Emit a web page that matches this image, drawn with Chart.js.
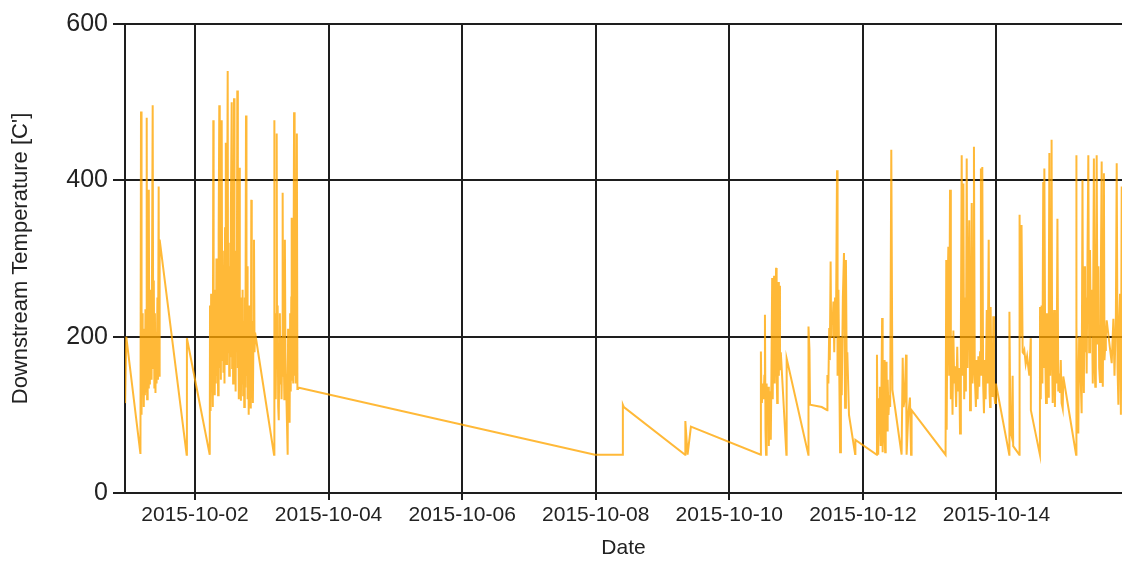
<!DOCTYPE html>
<html>
<head>
<meta charset="utf-8">
<script src="https://cdn.jsdelivr.net/npm/chart.js@4.4.1/dist/chart.umd.min.js"></script>
<style>
  body { margin: 0; background: #fff; }
  canvas { display: block; }
</style>
</head>
<body>
<canvas id="tempChart" width="1122" height="563"></canvas>
<script>
// readings: hours after 2015-10-01 00:00 (UTC) and downstream temperature
const startDate = '2015-10-01T00:00:00Z';
const hours = [
  -1.1, -0.7, 4.4,
  4.6, 4.8, 5.0, 5.2, 5.4, 5.6, 5.8, 6.0, 6.2, 6.4, 6.65, 6.8, 7.0, 7.2, 7.4, 7.6, 7.8, 8.0, 8.2, 8.4,
  8.8, 9.0, 9.2, 9.4, 9.6, 9.8, 10.0, 10.2, 10.5, 10.7, 10.95, 11.1, 11.3,
  21.0, 21.1, 29.3,
  29.4, 29.6, 29.8, 30.0, 30.2, 30.4, 30.58, 30.7, 30.9, 31.1,
  31.3, 31.5, 31.7, 31.9, 32.1, 32.3, 32.5, 32.73, 32.9, 33.1,
  33.3, 33.6, 33.8, 34.0, 34.2, 34.4, 34.6, 34.8, 35.0, 35.14,
  35.3, 35.5, 35.75, 35.9, 36.1, 36.3, 36.5, 36.7, 36.9, 37.19,
  37.35, 37.5, 37.7, 37.85, 38.02, 38.2, 38.4, 38.6, 38.8, 39.0,
  39.2, 39.4, 39.6, 39.75, 39.92, 40.1, 40.3, 40.5, 40.7, 40.9,
  41.1, 41.3, 41.5, 41.7, 41.9, 42.1, 42.33, 42.5, 42.7, 42.9,
  43.1, 43.3, 43.5, 43.7, 43.9, 44.05, 44.23, 44.4, 44.6, 44.8,
  45.0, 45.2, 45.4, 45.6,
  52.4,
  52.45, 52.6, 52.8, 53.0, 53.2, 53.36, 53.5, 53.7, 53.9, 54.1,
  54.3, 54.5, 54.7, 54.9, 55.1, 55.3, 55.5, 55.7, 55.9, 56.1,
  56.3, 56.5, 56.8, 57.3, 57.45, 57.6, 57.8, 58.0, 58.2, 58.4,
  58.6, 58.75, 58.9, 59.1, 59.3, 59.6, 59.8, 60.0, 60.2, 60.6,
  60.8, 61.0,
  167.7, 177.7, 177.75, 178.1, 200.1, 200.2, 201.0, 202.2, 227.3,
  227.35, 227.5, 227.7, 228.0, 228.3, 228.6, 228.8, 229.0, 229.2, 229.4,
  229.6, 229.8, 230.0, 230.2, 230.5, 230.9, 231.1, 231.4, 231.6, 231.8,
  232.1, 232.3, 232.5, 232.8, 233.0, 233.2, 233.4, 233.6, 233.8, 234.0,
  234.2, 234.5, 236.5, 236.6, 244.4, 244.45, 244.8, 245.0, 249.2, 251.2,
  251.25, 251.6, 251.9, 252.1, 252.4, 252.6, 252.8, 253.1, 253.4, 253.7,
  254.0, 254.3, 254.7, 254.9, 255.2, 255.8, 256.1, 256.4, 256.8, 257.2,
  257.6, 257.9, 258.2, 258.4, 259.0, 261.2, 261.3,
  269.0, 269.05, 269.3, 269.5, 269.8, 270.1, 270.4, 270.6, 270.9, 271.1,
  271.3, 271.6, 271.8, 272.0, 272.2, 272.5, 272.7, 272.9, 273.2, 273.5,
  273.8, 274.2, 274.6, 275.5, 277.9, 278.3, 278.6, 279.0, 279.5, 279.7,
  280.3, 280.9, 281.3, 281.5, 293.7,
  293.95, 294.1, 294.4, 294.7, 295.0, 295.3, 295.6, 295.9, 296.2, 296.5,
  296.8, 297.1, 297.5, 297.9, 298.2, 298.6, 298.9, 299.2, 299.5, 299.8,
  300.1, 300.4, 300.7, 301.0, 301.3, 301.6, 301.9, 302.2, 302.5, 302.8,
  303.1, 303.4, 303.65, 303.9, 304.2, 304.6, 304.9, 305.2, 305.5, 305.8,
  306.1, 306.4, 306.6, 306.9, 307.2, 307.5, 307.8, 308.1, 308.5, 308.8,
  309.2, 309.5, 309.7, 309.9, 310.2, 310.6, 310.85, 311.1, 311.5, 311.8,
  316.6,
  316.65, 317.0, 317.5, 317.8, 318.0, 320.2, 320.3, 320.6, 321.0, 321.4,
  321.6, 322.0, 322.5, 323.0, 323.4, 323.8, 324.3, 324.35, 327.6,
  327.65, 327.9, 328.2, 328.5, 328.8, 329.0, 329.2, 329.5, 329.8, 330.1,
  330.4, 330.6, 330.8, 331.0, 331.3, 331.6, 331.8, 332.0, 332.2, 332.5,
  332.7, 333.0, 333.3, 333.6, 333.9, 334.2, 334.6, 334.8, 335.1, 335.4,
  335.8, 336.0, 340.6,
  340.65, 340.8, 341.1, 341.4, 341.7, 342.0, 342.3, 342.6, 342.9, 343.1,
  343.4, 343.6, 343.8, 344.1, 344.4, 344.7, 345.0, 345.3, 345.6, 345.9,
  346.2, 346.6, 347.0, 347.2, 347.5, 347.7, 348.0, 348.3, 348.6, 348.9,
  349.2, 349.5, 349.8, 350.0, 350.2, 350.4, 350.6, 350.8, 351.0, 351.3,
  351.6, 353.4, 354.0, 354.4, 354.9, 355.2, 355.5, 355.8, 356.1, 356.4,
  356.7, 357.0, 357.3
];
const temps = [
  115, 200, 50,
  488, 100, 230, 140, 210, 110, 190, 125, 235, 130, 480, 120, 200, 135, 388, 140, 220, 150, 260, 145,
  496, 160, 272, 135, 230, 128, 205, 140, 250, 145, 392, 150, 324,
  49, 198, 49,
  240, 105, 255, 130, 210, 110, 477, 150, 260, 125,
  245, 140, 300, 150, 240, 125, 330, 496, 160, 280,
  145, 477, 170, 310, 155, 290, 140, 340, 190, 448,
  165, 300, 540, 180, 320, 150, 290, 175, 360, 500,
  160, 330, 140, 300, 505, 170, 280, 130, 310, 180,
  515, 160, 260, 120, 416, 150, 250, 118, 230, 140,
  260, 125, 220, 110, 250, 135, 483, 150, 290, 120,
  230, 100, 240, 130, 210, 108, 375, 140, 220, 115,
  200, 324, 180, 205,
  49,
  477, 150, 230, 120, 200, 460, 160, 240, 110, 93,
  180, 230, 140, 200, 120, 170, 384, 150, 180, 120,
  324, 180, 130, 49, 210, 100, 140, 90, 230, 130,
  250, 352, 145, 200, 140, 487, 150, 230, 140, 460,
  133, 135,
  49, 49, 113, 110, 49, 92, 49, 85, 49,
  181, 130, 115, 140, 120, 150, 228, 80, 49, 140,
  90, 120, 136, 60, 130, 68, 140, 275, 120, 250,
  278, 140, 220, 288, 160, 115, 200, 270, 150, 265,
  157, 180, 49, 172, 49, 213, 183, 113, 110, 106,
  151, 140, 211, 170, 296, 200, 230, 215, 245, 180,
  250, 200, 413, 150, 260, 52, 200, 125, 250, 307,
  109, 298, 150, 180, 100, 50, 68,
  49, 177, 60, 49, 120, 136, 60, 110, 224, 52,
  130, 170, 70, 52, 140, 168, 80, 145, 100, 125,
  110, 439, 132, 110, 49, 173, 110, 120, 177, 49,
  100, 122, 49, 106, 49,
  298, 81, 250, 315, 150, 388, 120, 200, 100, 208,
  140, 162, 110, 187, 130, 160, 76, 200, 432, 150,
  396, 120, 250, 130, 428, 160, 250, 349, 106, 200,
  371, 140, 180, 443, 150, 110, 170, 120, 175, 136,
  180, 415, 150, 417, 140, 102, 170, 120, 234, 140,
  324, 130, 110, 238, 140, 123, 226, 130, 115, 140,
  49,
  232, 80, 72, 150, 60, 49, 356, 200, 343, 180,
  179, 183, 165, 175, 162, 150, 198, 106, 49,
  238, 120, 240, 140, 398, 160, 415, 180, 115, 230,
  130, 123, 250, 435, 150, 260, 452, 170, 115, 200,
  234, 110, 200, 140, 351, 130, 153, 128, 170, 115,
  108, 149, 49,
  432, 213, 120, 76, 200, 180, 140, 102, 400, 200,
  128, 290, 180, 250, 153, 300, 432, 180, 311, 200,
  260, 140, 428, 170, 136, 250, 432, 190, 290, 160,
  142, 280, 424, 200, 136, 250, 409, 170, 183, 200,
  221, 166, 223, 150, 225, 422, 160, 113, 221, 255,
  100, 392, 150
];

const dateTicks = ['2015-10-02', '2015-10-04', '2015-10-06', '2015-10-08', '2015-10-10', '2015-10-12', '2015-10-14'];
const yMin = 0;
const yMax = 600;
const yStep = 200;
const xFirstHour = -1.15;
const xLastHour = 357.1;

const hourMs = 3600000;
const t0 = Date.parse(startDate);
const points = hours.map((h, i) => ({ x: t0 + h * hourMs, y: temps[i] }));

Chart.defaults.font.family = "'Liberation Sans', Arial, sans-serif";
Chart.defaults.color = '#222';

const ctx = document.getElementById('tempChart').getContext('2d');
const tempChart = new Chart(ctx, {
    type: 'line',
    data: {
        datasets: [{
            label: 'Downstream Temperature',
            data: points,
            borderColor: 'rgba(255, 165, 0, 0.78)',
            borderWidth: 2,
            pointRadius: 0,
            fill: false,
            tension: 0
        }]
    },
    options: {
        responsive: false,
        animation: false,
        layout: { padding: { top: 24, right: 0, bottom: 0, left: 0 } },
        plugins: {
            legend: { display: false },
            tooltip: { enabled: false }
        },
        scales: {
            x: {
                type: 'linear',
                min: t0 + xFirstHour * hourMs,
                max: t0 + xLastHour * hourMs,
                afterBuildTicks: function (scale) {
                    scale.ticks = dateTicks.map(d => ({ value: Date.parse(d + 'T00:00:00Z') }));
                },
                afterFit: function (scale) {
                    scale.height = 70;
                    scale.paddingLeft = 0;
                    scale.paddingRight = 0;
                },
                ticks: {
                    autoSkip: false,
                    maxRotation: 0,
                    padding: 3,
                    font: { size: 21 },
                    callback: value => new Date(value).toISOString().slice(0, 10)
                },
                grid: { color: '#1e1e1e', lineWidth: 2, tickLength: 7 },
                border: { color: '#1e1e1e', width: 2 },
                title: {
                    display: true,
                    text: 'Date',
                    font: { size: 21 },
                    padding: { top: 0, bottom: 2 }
                }
            },
            y: {
                min: yMin,
                max: yMax,
                afterFit: function (scale) {
                    scale.width = 125;
                },
                ticks: {
                    stepSize: yStep,
                    padding: 5,
                    font: { size: 25 }
                },
                grid: { color: '#1e1e1e', lineWidth: 2, tickLength: 12 },
                border: { color: '#1e1e1e', width: 2 },
                title: {
                    display: true,
                    text: "Downstream Temperature [C']",
                    font: { size: 22 },
                    padding: { top: 8, bottom: 0 }
                }
            }
        }
    }
});
</script>
</body>
</html>
